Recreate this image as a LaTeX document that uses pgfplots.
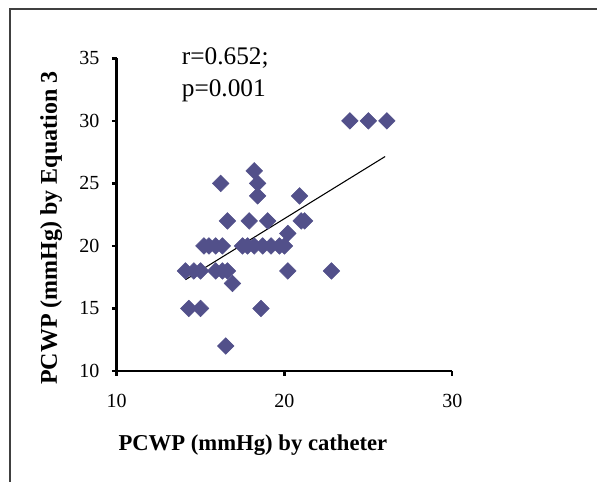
\documentclass[border=0pt]{standalone}
\usepackage{fontspec}
\setmainfont{Liberation Serif}
\usepackage{pgfplots}
\pgfplotsset{compat=1.18}
\definecolor{mk}{RGB}{82,80,138}
\begin{document}
\begin{tikzpicture}
\useasboundingbox (-87.5pt,-83.25pt) rectangle (360.25pt,278.25pt);
\draw[line width=1.3pt, black!75] (-80pt,-100pt) -- (-80pt,271.5pt) -- (400pt,271.5pt);
\begin{axis}[
 at={(0,0)}, anchor=south west,
 scale only axis, width=251.7pt, height=234.5pt,
 xmin=10, xmax=30, ymin=10, ymax=35,
 axis lines*=left,
 axis line style={-, line width=2.2pt},
 xtick={10,20,30}, ytick={10,15,...,35},
 tick align=outside, major tick length=3.5pt,
 tick style={line width=1.8pt, black},
 /pgf/number format/assume math mode=true,
 ticklabel style={font=\fontsize{15}{18}\selectfont},
 xticklabel style={yshift=-10pt},
 yticklabel style={xshift=-6pt},
 clip=false,
 xlabel={PCWP (mmHg) by catheter},
 ylabel={PCWP (mmHg) by Equation 3},
 every axis x label/.style={at={(rel axis cs:0.406,-0.255)}, anchor=base, font=\fontsize{17}{20}\selectfont\bfseries},
 every axis y label/.style={at={(rel axis cs:-0.178,0.457)}, rotate=90, anchor=base, font=\fontsize{18}{21}\selectfont\bfseries},
]
\addplot[only marks, mark=square*, mark size=4.4pt, mark options={rotate=45, fill=mk, draw=mk}] coordinates {
(23.9,30) (25.0,30) (26.1,30)
(18.2,26)
(16.2,25) (18.4,25)
(18.4,24) (20.9,24)
(16.6,22) (17.9,22) (19.0,22) (21.0,22) (21.2,22)
(20.2,21)
(15.2,20) (15.5,20) (15.9,20) (16.3,20) (17.5,20) (17.8,20) (18.2,20) (18.7,20) (19.2,20) (19.7,20) (20.0,20)
(14.1,18) (14.6,18) (15.0,18) (15.9,18) (16.3,18) (16.6,18) (20.2,18) (22.8,18)
(16.9,17)
(14.3,15) (15.0,15) (18.6,15)
(16.5,12)
};
\addplot[black, line width=0.8pt] coordinates {(14.1,17.3) (26.0,27.15)};
\node[anchor=base west, font=\fontsize{19}{22}\selectfont, inner sep=0pt] at (axis cs:13.87,34.48) {r=0.652;};
\node[anchor=base west, font=\fontsize{19}{22}\selectfont, inner sep=0pt] at (axis cs:13.87,31.94) {p=0.001};
\end{axis}
\end{tikzpicture}
\end{document}
